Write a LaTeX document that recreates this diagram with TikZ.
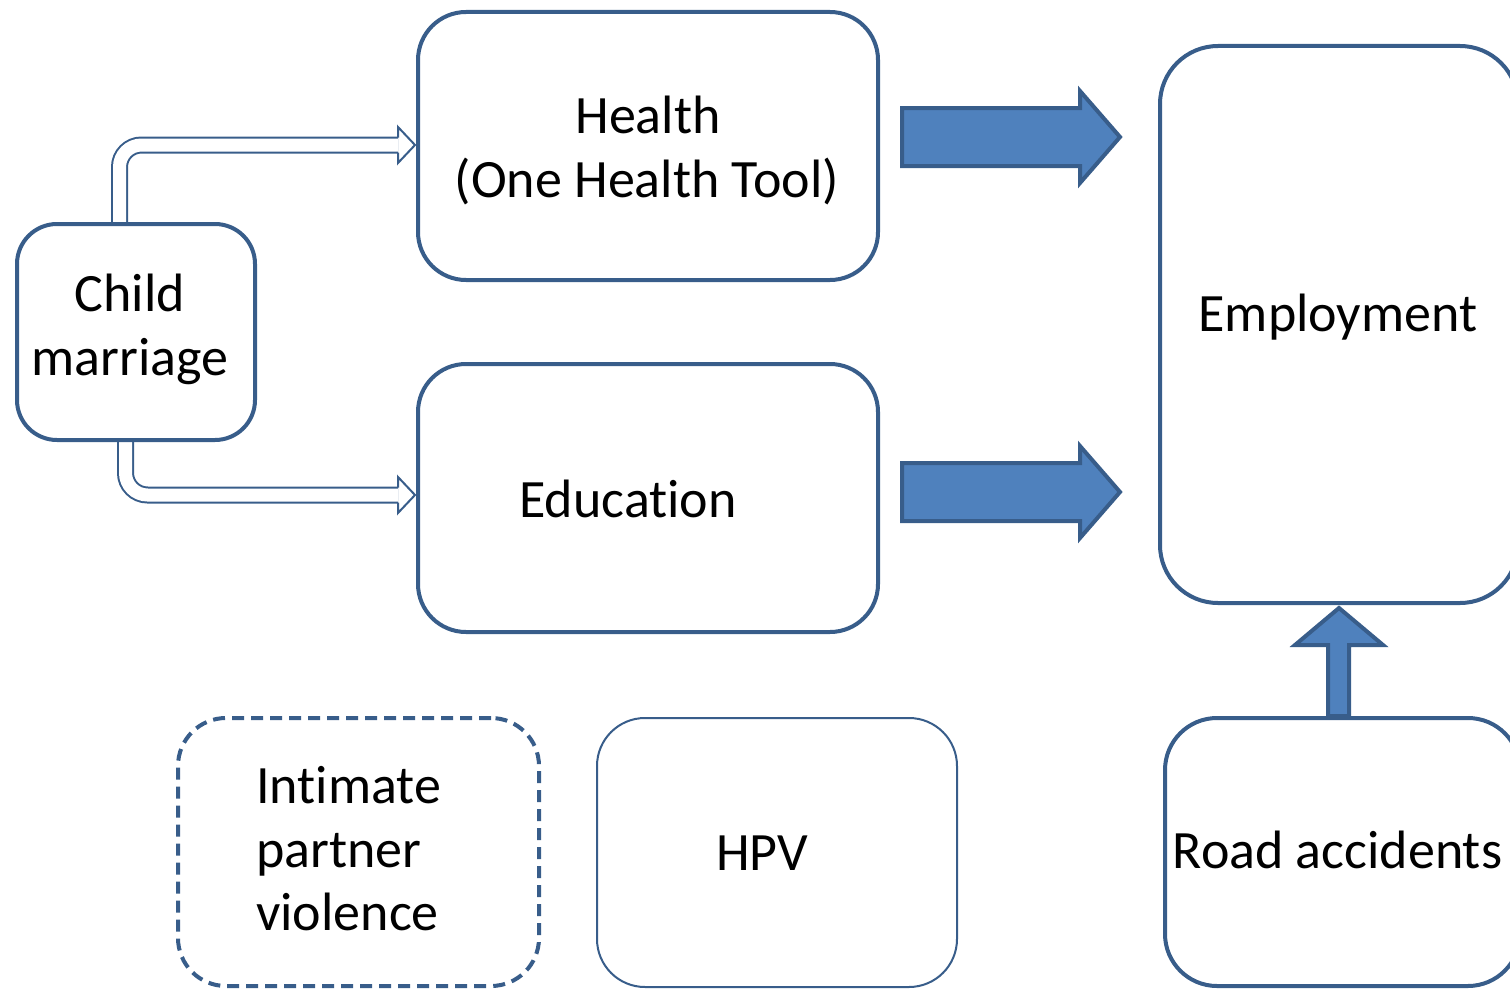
\documentclass[tikz,border=0pt]{standalone}
\usepackage{fontspec}
\setmainfont{Carlito}[Ligatures={NoCommon,NoContextual}]
\usetikzlibrary{calc}
\definecolor{boxline}{RGB}{56,93,138}
\definecolor{arrowfill}{RGB}{79,129,189}
\begin{document}
\begin{tikzpicture}[x=1pt,y=-1pt,
  box/.style={draw=boxline, line width=4pt, fill=white, rounded corners=#1, inner sep=0pt},
  box/.default=48pt,
  lbl/.style={anchor=base, inner sep=0pt, font=\fontsize{54}{64}\selectfont},
  lblw/.style={anchor=base west, inner sep=0pt, font=\fontsize{54}{64}\selectfont},
  dconn/.style={draw=boxline, line width=2pt, double=white, double distance=13pt, rounded corners=22pt},
  dhead/.style={draw=boxline, line width=2pt, line join=miter},
  blockarrow/.style={draw=boxline, line width=4pt, fill=arrowfill, line join=miter}
]
\useasboundingbox (0,0) rectangle (1510,990);

% connectors (drawn first, boxes cover their start)
\coordinate (cm) at (136,332);
\coordinate (ht) at (648,146);
\coordinate (ed) at (648,498);
\draw[dconn] ($(cm)+(-16.5,-108)$) |- ($(ht)+(-250,-1)$);
\draw[dhead] ($(ht)+(-250,-8.5)$) -- ($(ht)+(-250,-19)$) -- ($(ht)+(-233,-1)$) -- ($(ht)+(-250,17)$) -- ($(ht)+(-250,6.5)$);
\draw[dconn] ($(cm)+(-10.5,108)$) |- ($(ed)+(-250,-3)$);
\draw[dhead] ($(ed)+(-250,-10.5)$) -- ($(ed)+(-250,-21)$) -- ($(ed)+(-233,-3)$) -- ($(ed)+(-250,15)$) -- ($(ed)+(-250,4.5)$);

% boxes
\node[box=40pt, minimum width=238pt, minimum height=216pt] (child) at (cm) {};
\node[box, minimum width=460pt, minimum height=268pt] (health) at (ht) {};
\node[box, minimum width=460pt, minimum height=268pt] (edu) at (ed) {};
\node[box=58pt, minimum width=358pt, minimum height=557pt] (emp) at (1339,324.5) {};
\node[box=52pt, minimum width=355pt, minimum height=268pt] (road) at (1342.5,852) {};
\node[box, dash pattern=on 12pt off 7pt, minimum width=361pt, minimum height=268pt] (ipv) at (358.5,852) {};
\node[box, line width=2pt, minimum width=360pt, minimum height=269pt] (hpv) at (777,852.5) {};

% texts
\node[lbl] (t1) at (130,311) {Child};
\node[lbl] (t2) at (130,375) {marriage};
\node[lbl] (t3) at (648,133) {Health};
\node[lbl] (t4) at (647,197) {(One Health Tool)};
\node[lbl] (t5) at (628,517) {Education};
\node[lbl] (t6) at (1338,331) {Employment};
\node[lblw] (t7) at (256,803) {Intimate};
\node[lblw] (t8) at (256,867) {partner};
\node[lblw] (t9) at (256,930) {violence};
\node[lbl] (t10) at (762,870) {HPV};
\node[lbl] (t11) at (1337.5,868) {Road accidents};

% block arrows
\draw[blockarrow] (902,108) -- (1080,108) -- (1080,91) -- (1120,137) -- (1080,183) -- (1080,166) -- (902,166) -- cycle;
\draw[blockarrow] (902,463) -- (1080,463) -- (1080,446) -- (1120,492) -- (1080,538) -- (1080,521) -- (902,521) -- cycle;
\draw[blockarrow] (road.north -| 1328,0) -- (1328,645) -- (1295,645) -- (1339,608) -- (1383,645) -- (1349,645) -- (road.north -| 1349,0) -- cycle;
\end{tikzpicture}
\end{document}
